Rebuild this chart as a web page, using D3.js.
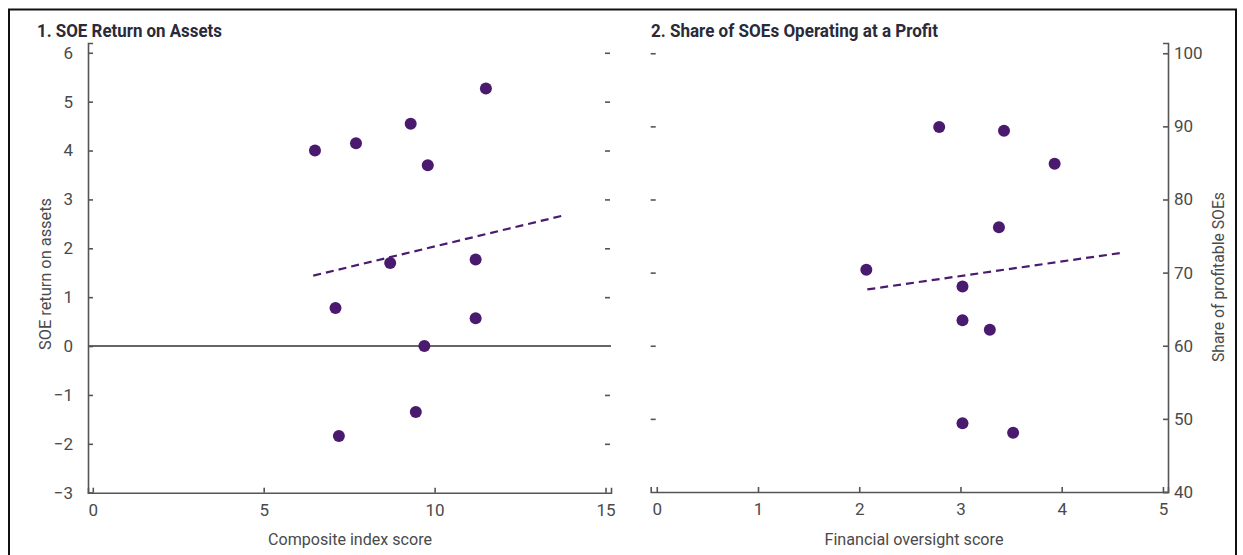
<!DOCTYPE html>
<html>
<head>
<meta charset="utf-8">
<script src="https://cdn.jsdelivr.net/npm/d3@7/dist/d3.min.js"></script>
<style>
  html, body { margin: 0; padding: 0; background: #fff; }
  svg { display: block; }
  text { font-family: Roboto, "Liberation Sans", sans-serif; }
</style>
</head>
<body>
<svg id="chart" width="1243" height="555"></svg>
<script>
// ---------- Data ----------
const titles = ["1. SOE Return on Assets", "2. Share of SOEs Operating at a Profit"];

// Panel 1: composite index score vs SOE return on assets
const p1X = [6.5, 7.7, 9.3, 11.5, 9.8, 7.1, 8.7, 11.2, 11.2, 9.7, 9.45, 7.2];
const p1Y = [4.0, 4.15, 4.55, 5.27, 3.7, 0.78, 1.7, 1.77, 0.57, 0.0, -1.35, -1.84];
const p1TrendX = [6.45, 13.76];
const p1TrendY = [1.44, 2.67];
const p1XTicks = [0, 5, 10, 15];
const p1YTicks = [-3, -2, -1, 0, 1, 2, 3, 4, 5, 6];

// Panel 2: financial oversight score vs share of profitable SOEs
const p2X = [2.07, 2.79, 3.43, 3.93, 3.38, 3.02, 3.02, 3.29, 3.02, 3.52];
const p2Y = [70.4, 89.9, 89.4, 84.9, 76.2, 68.1, 63.5, 62.2, 49.4, 48.1];
const p2TrendX = [2.08, 4.59];
const p2TrendY = [67.7, 72.7];
const p2XTicks = [0, 1, 2, 3, 4, 5];
const p2YTicks = [40, 50, 60, 70, 80, 90, 100];

const xLabels = ["Composite index score", "Financial oversight score"];
const yLabels = ["SOE return on assets", "Share of profitable SOEs"];

// ---------- Styles ----------
const dotColor = "#4a1a6e";
const axisColor = "#555";
const labelColor = "#4a4a4a";
const titleColor = "#2a2a38";

const svg = d3.select("#chart");

// outer frame
svg.append("rect")
  .attr("x", 9).attr("y", 9.5).attr("width", 1227).attr("height", 560)
  .attr("fill", "none").attr("stroke", "#111").attr("stroke-width", 2);

// ---------- Scales ----------
const x1 = d3.scaleLinear().domain([-0.14, 15.16]).range([88, 611]);
const y1 = d3.scaleLinear().domain([-3, 6.2]).range([492.7, 43]);
const x2 = d3.scaleLinear().domain([-0.06, 5.05]).range([650.7, 1168]);
const y2 = d3.scaleLinear().domain([40, 101.4]).range([492, 43]);

// ---------- Titles ----------
svg.append("text").attr("x", 37).attr("y", 36.5)
  .attr("font-size", 18).attr("font-weight", "bold").attr("fill", titleColor)
  .attr("textLength", 185).attr("lengthAdjust", "spacingAndGlyphs")
  .text(titles[0]);
svg.append("text").attr("x", 651).attr("y", 36.5)
  .attr("font-size", 18).attr("font-weight", "bold").attr("fill", titleColor)
  .attr("textLength", 287).attr("lengthAdjust", "spacingAndGlyphs")
  .text(titles[1]);

function styleAxis(g) {
  g.selectAll(".domain").attr("stroke", axisColor).attr("stroke-width", 1.6);
  g.selectAll(".tick line").attr("stroke", axisColor).attr("stroke-width", 1.6);
  g.selectAll(".tick text").attr("fill", labelColor).attr("font-size", 17)
    .style("font-family", 'Roboto, "Liberation Sans", sans-serif');
}

// ---------- Panel 1 ----------
svg.append("line")
  .attr("x1", x1.range()[0]).attr("x2", x1.range()[1])
  .attr("y1", y1(0)).attr("y2", y1(0))
  .attr("stroke", "#333").attr("stroke-width", 1.6);

const gy1 = svg.append("g").attr("transform", `translate(${x1.range()[0]},0)`)
  .call(d3.axisLeft(y1).tickValues(p1YTicks).tickSize(-5).tickPadding(15)
    .tickFormat(d => d < 0 ? "\u2212" + Math.abs(d) : d));
styleAxis(gy1);

const gy1r = svg.append("g").attr("transform", `translate(${x1.range()[1] - 1},0)`)
  .call(d3.axisRight(y1).tickValues(p1YTicks.filter(d => d !== 0 && d !== -3)).tickSize(-5).tickFormat(""));
gy1r.select(".domain").remove();
gy1r.selectAll(".tick line").attr("stroke", axisColor).attr("stroke-width", 1.6);

const gx1 = svg.append("g").attr("transform", `translate(0,${y1.range()[0]})`)
  .call(d3.axisBottom(x1).tickValues(p1XTicks).tickSize(-5).tickPadding(11).tickFormat(d3.format("d")));
styleAxis(gx1);

svg.append("text").attr("x", 350).attr("y", 545).attr("text-anchor", "middle")
  .attr("font-size", 17).attr("fill", labelColor)
  .attr("textLength", 164).attr("lengthAdjust", "spacingAndGlyphs").text(xLabels[0]);
svg.append("text").attr("transform", `translate(51,274) rotate(-90)`)
  .attr("text-anchor", "middle").attr("font-size", 17).attr("fill", labelColor)
  .attr("textLength", 152).attr("lengthAdjust", "spacingAndGlyphs").text(yLabels[0]);

svg.append("line")
  .attr("x1", x1(p1TrendX[0])).attr("y1", y1(p1TrendY[0]))
  .attr("x2", x1(p1TrendX[1])).attr("y2", y1(p1TrendY[1]))
  .attr("stroke", dotColor).attr("stroke-width", 2.2).attr("stroke-dasharray", "8,5");

svg.append("g").selectAll("circle").data(p1X.map((d, i) => [d, p1Y[i]])).join("circle")
  .attr("cx", d => x1(d[0])).attr("cy", d => y1(d[1])).attr("r", 6).attr("fill", dotColor);

// ---------- Panel 2 ----------
const gy2 = svg.append("g").attr("transform", `translate(${x2.range()[1]},0)`)
  .call(d3.axisRight(y2).tickValues(p2YTicks).tickSize(-5).tickPadding(6).tickFormat(d3.format("d")));
styleAxis(gy2);

const gy2l = svg.append("g").attr("transform", `translate(${x2.range()[0]},0)`)
  .call(d3.axisLeft(y2).tickValues(p2YTicks.filter(d => d !== 40)).tickSize(-5).tickFormat(""));
gy2l.select(".domain").remove();
gy2l.selectAll(".tick line").attr("stroke", axisColor).attr("stroke-width", 1.6);

const gx2 = svg.append("g").attr("transform", `translate(0,${y2.range()[0]})`)
  .call(d3.axisBottom(x2).tickValues(p2XTicks).tickSize(-5).tickPadding(11).tickFormat(d3.format("d")));
styleAxis(gx2);

svg.append("text").attr("x", 914).attr("y", 545).attr("text-anchor", "middle")
  .attr("font-size", 17).attr("fill", labelColor)
  .attr("textLength", 179).attr("lengthAdjust", "spacingAndGlyphs").text(xLabels[1]);
svg.append("text").attr("transform", `translate(1224,277) rotate(-90)`)
  .attr("text-anchor", "middle").attr("font-size", 17).attr("fill", labelColor)
  .attr("textLength", 170).attr("lengthAdjust", "spacingAndGlyphs").text(yLabels[1]);

svg.append("line")
  .attr("x1", x2(p2TrendX[0])).attr("y1", y2(p2TrendY[0]))
  .attr("x2", x2(p2TrendX[1])).attr("y2", y2(p2TrendY[1]))
  .attr("stroke", dotColor).attr("stroke-width", 2.2).attr("stroke-dasharray", "8,5");

svg.append("g").selectAll("circle").data(p2X.map((d, i) => [d, p2Y[i]])).join("circle")
  .attr("cx", d => x2(d[0])).attr("cy", d => y2(d[1])).attr("r", 6).attr("fill", dotColor);
</script>
</body>
</html>
